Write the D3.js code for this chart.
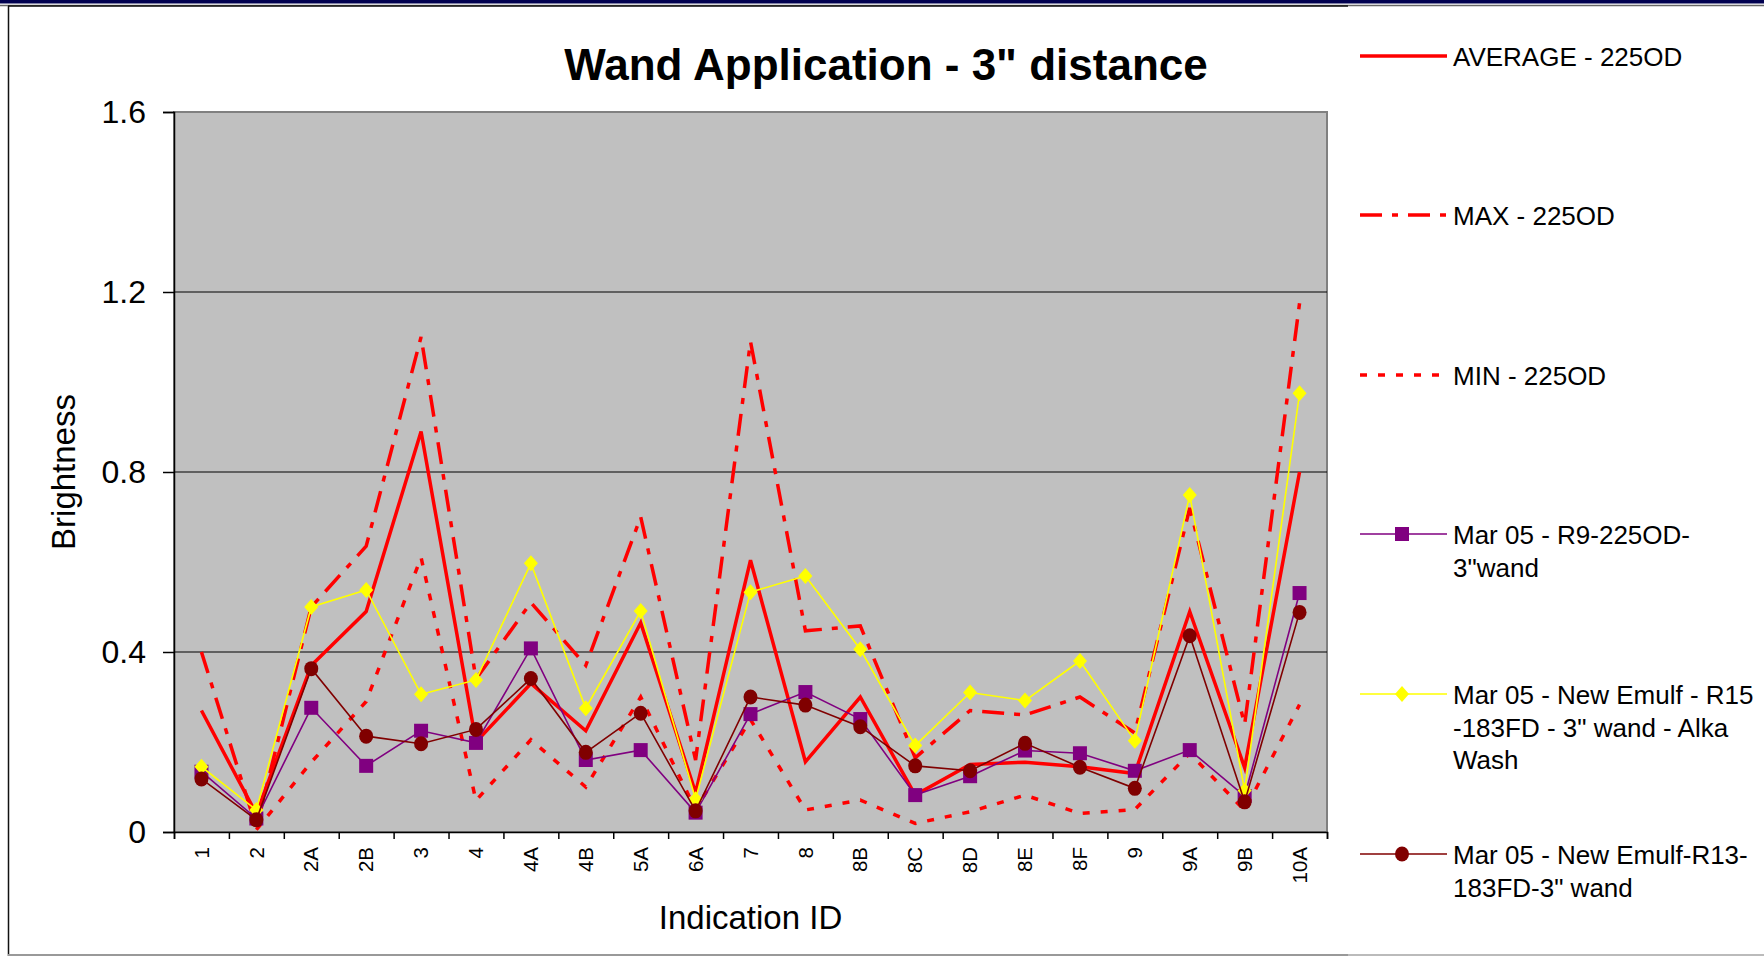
<!DOCTYPE html>
<html>
<head>
<meta charset="utf-8">
<script src="https://cdn.jsdelivr.net/npm/d3@7"></script>
<style>
  body { margin: 0; background: #fff; }
  svg { display: block; font-family: "Liberation Sans", Arial, sans-serif; }
</style>
</head>
<body>
<svg id="chart" width="1764" height="956"></svg>
<script>
// categories and series
const categories = ['1','2','2A','2B','3','4','4A','4B','5A','6A','7','8','8B','8C','8D','8E','8F','9','9A','9B','10A'];
const avg225 = [0.27, 0.04, 0.37, 0.49, 0.89, 0.20, 0.33, 0.225, 0.465, 0.087, 0.604, 0.156, 0.30, 0.082, 0.15, 0.155, 0.145, 0.13, 0.49, 0.143, 0.80];
const max225 = [0.40, 0.01, 0.50, 0.635, 1.10, 0.34, 0.51, 0.37, 0.70, 0.16, 1.09, 0.447, 0.458, 0.165, 0.27, 0.26, 0.30, 0.22, 0.72, 0.239, 1.175];
const min225 = [null, 0.005, 0.155, 0.29, 0.61, 0.07, 0.205, 0.10, 0.30, 0.05, 0.25, 0.049, 0.071, 0.019, 0.045, 0.082, 0.041, 0.05, 0.175, 0.048, 0.283];
const r9 = [0.134, 0.03, 0.276, 0.147, 0.225, 0.198, 0.408, 0.16, 0.182, 0.043, 0.262, 0.311, 0.251, 0.082, 0.124, 0.181, 0.175, 0.136, 0.182, 0.08, 0.531];
const r15 = [0.145, 0.049, 0.50, 0.538, 0.306, 0.338, 0.597, 0.275, 0.491, 0.073, 0.533, 0.569, 0.406, 0.192, 0.31, 0.292, 0.38, 0.203, 0.749, 0.092, 0.975];
const r13 = [0.118, 0.027, 0.363, 0.213, 0.196, 0.228, 0.341, 0.177, 0.264, 0.047, 0.30, 0.282, 0.234, 0.147, 0.136, 0.197, 0.144, 0.097, 0.436, 0.067, 0.488];
const yTicks = [0, 0.4, 0.8, 1.2, 1.6];

const legendNames = [
    ['AVERAGE - 225OD'],
    ['MAX - 225OD'],
    ['MIN - 225OD'],
    ['Mar 05 - R9-225OD-', '3"wand'],
    ['Mar 05 - New Emulf - R15', '-183FD - 3" wand - Alka', 'Wash'],
    ['Mar 05 - New Emulf-R13-', '183FD-3" wand']
];

const series = [
    { values: avg225, color: '#ff0000', width: 3.5, dash: null, marker: null },
    { values: max225, color: '#ff0000', width: 3.5, dash: '22,10,6,10', marker: null },
    { values: min225, color: '#ff0000', width: 3.5, dash: '7,11', marker: null },
    { values: r9, color: '#800080', width: 1.6, dash: null, marker: 'square' },
    { values: r15, color: '#ffff00', width: 1.6, dash: null, marker: 'diamond' },
    { values: r13, color: '#800000', width: 1.6, dash: null, marker: 'circle' }
];

const plot = { left: 174, right: 1327, top: 112, bottom: 832 };
const svg = d3.select('#chart');

// slide frame
svg.append('rect').attr('x', 0).attr('y', 0).attr('width', 1764).attr('height', 3.5).attr('fill', '#000050');
svg.append('line').attr('x1', 0).attr('x2', 1764).attr('y1', 5.5).attr('y2', 5.5).attr('stroke', '#666').attr('stroke-width', 1.5);
svg.append('line').attr('x1', 8).attr('x2', 1348).attr('y1', 6).attr('y2', 6).attr('stroke', '#111').attr('stroke-width', 1.5);
svg.append('line').attr('x1', 8.5).attr('x2', 8.5).attr('y1', 6).attr('y2', 956).attr('stroke', '#111').attr('stroke-width', 1.5);
svg.append('line').attr('x1', 8).attr('x2', 1348).attr('y1', 955).attr('y2', 955).attr('stroke', '#999').attr('stroke-width', 2);
svg.append('line').attr('x1', 1348).attr('x2', 1764).attr('y1', 955).attr('y2', 955).attr('stroke', '#bbb').attr('stroke-width', 2);

const x = d3.scaleBand().domain(categories).range([plot.left, plot.right]);
const xEdge = d3.scaleLinear().domain([0, categories.length]).range([plot.left, plot.right]);
const y = d3.scaleLinear().domain([0, 1.6]).range([plot.bottom, plot.top]);
const cx = d => x(d) + x.bandwidth() / 2;

// plot area
svg.append('rect')
    .attr('x', plot.left).attr('y', plot.top)
    .attr('width', plot.right - plot.left).attr('height', plot.bottom - plot.top)
    .attr('fill', '#c0c0c0').attr('stroke', '#808080').attr('stroke-width', 2);

svg.append('g').selectAll('line')
    .data(yTicks.filter(t => t > 0 && t < 1.6))
    .join('line')
    .attr('x1', plot.left).attr('x2', plot.right)
    .attr('y1', d => y(d)).attr('y2', d => y(d))
    .attr('stroke', '#000').attr('stroke-width', 1.2);

// y axis
const yAxis = svg.append('g')
    .attr('transform', `translate(${plot.left},0)`)
    .call(d3.axisLeft(y).tickValues(yTicks).tickSize(11).tickPadding(17)
        .tickFormat(d => d === 0 ? '0' : d3.format('.1f')(d)));
yAxis.select('.domain').attr('stroke', '#000').attr('stroke-width', 1.5);
yAxis.selectAll('.tick line').attr('stroke', '#000').attr('stroke-width', 1.5);
yAxis.selectAll('text').attr('font-size', 32).attr('fill', '#000').attr('font-family', 'Liberation Sans, Arial, sans-serif');

// x axis: ticks on category edges, labels centred
const xTickAxis = svg.append('g')
    .attr('transform', `translate(0,${plot.bottom})`)
    .call(d3.axisBottom(xEdge).tickValues(d3.range(categories.length + 1)).tickSize(7).tickFormat(''));
xTickAxis.select('.domain').attr('stroke', '#000').attr('stroke-width', 1.5);
xTickAxis.selectAll('.tick line').attr('stroke', '#000').attr('stroke-width', 1.5);

const xLabelAxis = svg.append('g')
    .attr('transform', `translate(0,${plot.bottom})`)
    .call(d3.axisBottom(x).tickSize(0).tickPadding(0));
xLabelAxis.select('.domain').remove();
xLabelAxis.selectAll('text')
    .attr('font-size', 20.5).attr('fill', '#000').attr('font-family', 'Liberation Sans, Arial, sans-serif')
    .attr('text-anchor', 'end')
    .attr('dy', '0.35em')
    .attr('x', -15).attr('y', 0)
    .attr('transform', 'rotate(-90)');

// series
const line = d3.line()
    .defined(d => d.v !== null)
    .x(d => cx(d.c))
    .y(d => y(d.v));

series.forEach(s => {
    const pts = categories.map((c, i) => ({ c: c, v: s.values[i] }));
    svg.append('path')
        .datum(pts)
        .attr('d', line)
        .attr('fill', 'none')
        .attr('stroke', s.color)
        .attr('stroke-width', s.width)
        .attr('stroke-dasharray', s.dash)
        .attr('stroke-linejoin', 'miter');
    if (s.marker) {
        drawMarkers(svg.append('g'), pts.filter(d => d.v !== null), s, d => cx(d.c), d => y(d.v));
    }
});

function drawMarkers(g, data, s, fx, fy) {
    if (s.marker === 'square') {
        g.selectAll('rect').data(data).join('rect')
            .attr('x', d => fx(d) - 7).attr('y', d => fy(d) - 7)
            .attr('width', 14).attr('height', 14).attr('fill', s.color);
    } else if (s.marker === 'diamond') {
        g.selectAll('path').data(data).join('path')
            .attr('d', d => `M${fx(d)},${fy(d) - 8}L${fx(d) + 7},${fy(d)}L${fx(d)},${fy(d) + 8}L${fx(d) - 7},${fy(d)}Z`)
            .attr('fill', s.color);
    } else {
        g.selectAll('ellipse').data(data).join('ellipse')
            .attr('cx', fx).attr('cy', fy).attr('rx', 7).attr('ry', 7.5).attr('fill', s.color);
    }
}

// titles
svg.append('text')
    .attr('x', 886).attr('y', 80)
    .attr('text-anchor', 'middle')
    .attr('font-size', 44).attr('font-weight', 'bold')
    .text('Wand Application - 3" distance');

svg.append('text')
    .attr('transform', `translate(75,${(plot.top + plot.bottom) / 2}) rotate(-90)`)
    .attr('text-anchor', 'middle')
    .attr('font-size', 33)
    .text('Brightness');

svg.append('text')
    .attr('x', (plot.left + plot.right) / 2).attr('y', 929)
    .attr('text-anchor', 'middle')
    .attr('font-size', 33)
    .text('Indication ID');

// legend
const legendY = [56, 215, 375, 534, 694, 854];
const legend = svg.append('g');
series.forEach((s, i) => {
    const ly = legendY[i];
    legend.append('line')
        .attr('x1', 1360).attr('x2', 1447).attr('y1', ly).attr('y2', ly)
        .attr('stroke', s.color).attr('stroke-width', s.width)
        .attr('stroke-dasharray', s.dash);
    if (s.marker) {
        drawMarkers(legend.append('g'), [{}], s, () => 1402, () => ly);
    }
    const t = legend.append('text')
        .attr('x', 1453).attr('y', ly + 10)
        .attr('font-size', 26);
    legendNames[i].forEach((txt, j) => {
        t.append('tspan').attr('x', 1453).attr('dy', j === 0 ? 0 : 32.5).text(txt);
    });
});
</script>
</body>
</html>
